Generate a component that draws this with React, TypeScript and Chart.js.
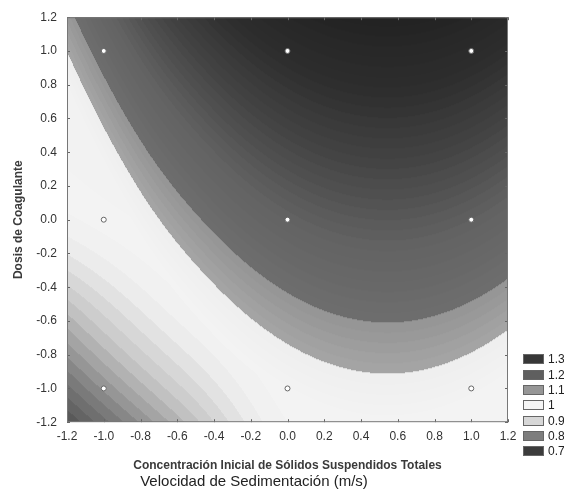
import React, { useEffect, useRef } from "react";
import { Chart, registerables } from "chart.js";

Chart.register(...registerables);

// ---- data ----
const axisTicks = [-1.2, -1.0, -0.8, -0.6, -0.4, -0.2, 0.0, 0.2, 0.4, 0.6, 0.8, 1.0, 1.2];

// 3x3 experimental design points
const designX = [-1, 0, 1, -1, 0, 1, -1, 0, 1];
const designY = [1, 1, 1, 0, 0, 0, -1, -1, -1];

// response surface above the white ridge (x columns, y rows from top to bottom)
const upperX = [-1.2, -0.8, -0.4, 0.0, 0.4, 0.8, 1.2];
const upperY = [1.2, 0.8, 0.4, 0.0, -0.4, -0.8, -1.2];
const upperAtY1p2 = [1.167, 1.441, 1.622, 1.739, 1.793, 1.784, 1.711];
const upperAtY0p8 = [1.035, 1.309, 1.49, 1.607, 1.661, 1.652, 1.579];
const upperAtY0p4 = [0.903, 1.177, 1.358, 1.475, 1.529, 1.52, 1.447];
const upperAtY0p0 = [0.771, 1.045, 1.226, 1.343, 1.397, 1.388, 1.315];
const upperAtYm0p4 = [0.639, 0.913, 1.094, 1.211, 1.265, 1.256, 1.183];
const upperAtYm0p8 = [0.507, 0.781, 0.962, 1.079, 1.133, 1.124, 1.051];
const upperAtYm1p2 = [0.375, 0.649, 0.83, 0.947, 1.001, 0.992, 0.919];
const upperRows = [upperAtY1p2, upperAtY0p8, upperAtY0p4, upperAtY0p0, upperAtYm0p4, upperAtYm0p8, upperAtYm1p2];

// response surface below the white ridge
const lowerX = [-1.2, -0.6, 0.0, 0.6, 1.2];
const lowerY = [1.2, 0.6, 0.0, -0.6, -1.2];
const lowerAtY1p2 = [1.04, 1.04, 1.04, 1.04, 1.04];
const lowerAtY0p6 = [1.03, 1.04, 1.04, 1.04, 1.04];
const lowerAtY0p0 = [0.995, 1.03, 1.04, 1.04, 1.04];
const lowerAtYm0p6 = [0.87, 0.98, 1.03, 1.03, 1.03];
const lowerAtYm1p2 = [0.72, 0.87, 1.0, 1.0, 1.0];
const lowerRows = [lowerAtY1p2, lowerAtY0p6, lowerAtY0p0, lowerAtYm0p6, lowerAtYm1p2];

// legend
const legendLevels = ["1.3", "1.2", "1.1", "1", "0.9", "0.8", "0.7"];

// ---- styles ----
const legendGrays = [55, 95, 150, 245, 215, 125, 60];
const rampZ = [0.6, 0.7, 0.8, 0.9, 0.97, 1.0, 1.0999, 1.1, 1.1999, 1.2, 1.35, 1.5, 1.65, 1.8];
const rampGray = [55, 72, 128, 200, 236, 243, 239, 166, 148, 110, 98, 70, 46, 34];
const FONT = "'Liberation Sans', Arial, sans-serif";

function catmull(p0: number, p1: number, p2: number, p3: number, t: number) {
  const t2 = t * t;
  const t3 = t2 * t;
  return 0.5 * (2 * p1 + (-p0 + p2) * t + (2 * p0 - 5 * p1 + 4 * p2 - p3) * t2 + (-p0 + 3 * p1 - 3 * p2 + p3) * t3);
}
function pick(arr: number[], k: number) {
  const n = arr.length;
  if (k < 0) return 3 * arr[0] - 3 * arr[1] + arr[2];
  if (k >= n) return 3 * arr[n - 1] - 3 * arr[n - 2] + arr[n - 3];
  return arr[k];
}
function interp1(arr: number[], pos: number) {
  const n = arr.length;
  let k = Math.floor(pos);
  if (k < 0) k = 0;
  if (k > n - 2) k = n - 2;
  const t = pos - k;
  return catmull(pick(arr, k - 1), pick(arr, k), pick(arr, k + 1), pick(arr, k + 2), t);
}
function makeSampler(gx: number[], gy: number[], rows: number[][]) {
  return (x: number, y: number) => {
    const px = (x - gx[0]) / (gx[1] - gx[0]);
    const py = (y - gy[0]) / (gy[1] - gy[0]);
    const col = rows.map((r) => interp1(r, px));
    return interp1(col, py);
  };
}
const upperAt = makeSampler(upperX, upperY, upperRows);
const lowerAt = makeSampler(lowerX, lowerY, lowerRows);

function grayFor(z: number) {
  const q = Math.floor(z / 0.02 + 1e-9) * 0.02 + 0.01;
  if (q <= rampZ[0]) return rampGray[0];
  for (let i = 1; i < rampZ.length; i++) {
    if (q <= rampZ[i]) {
      const t = (q - rampZ[i - 1]) / (rampZ[i] - rampZ[i - 1]);
      return rampGray[i - 1] + t * (rampGray[i] - rampGray[i - 1]);
    }
  }
  return rampGray[rampGray.length - 1];
}

const surfacePlugin = {
  id: "surface",
  beforeDatasetsDraw(chart: any) {
    const { ctx, chartArea: a, scales } = chart;
    const w = Math.round(a.right - a.left);
    const h = Math.round(a.bottom - a.top);
    const off = document.createElement("canvas");
    off.width = w;
    off.height = h;
    const octx = off.getContext("2d")!;
    const img = octx.createImageData(w, h);
    const xs: number[] = [];
    for (let i = 0; i < w; i++) xs.push(scales.x.getValueForPixel(a.left + i + 0.5));
    for (let j = 0; j < h; j++) {
      const y = scales.y.getValueForPixel(a.top + j + 0.5);
      for (let i = 0; i < w; i++) {
        const x = xs[i];
        const z = Math.max(upperAt(x, y), lowerAt(x, y));
        const g = Math.round(grayFor(z));
        const o = (j * w + i) * 4;
        img.data[o] = g;
        img.data[o + 1] = g;
        img.data[o + 2] = g;
        img.data[o + 3] = 255;
      }
    }
    octx.putImageData(img, 0, 0);
    ctx.drawImage(off, a.left, a.top);
  },
  afterDraw(chart: any) {
    const { ctx, chartArea: a, scales } = chart;
    ctx.save();
    // inward tick marks
    ctx.strokeStyle = "#666";
    ctx.lineWidth = 1;
    ctx.beginPath();
    for (const v of axisTicks) {
      const px = Math.round(scales.x.getPixelForValue(v)) + 0.5;
      ctx.moveTo(px, a.bottom);
      ctx.lineTo(px, a.bottom - 3);
      ctx.moveTo(px, a.top);
      ctx.lineTo(px, a.top + 3);
      const py = Math.round(scales.y.getPixelForValue(v)) + 0.5;
      ctx.moveTo(a.left, py);
      ctx.lineTo(a.left + 3, py);
      ctx.moveTo(a.right, py);
      ctx.lineTo(a.right - 3, py);
    }
    ctx.stroke();
    // frame
    ctx.strokeStyle = "#777";
    ctx.strokeRect(a.left + 0.5, a.top + 0.5, a.right - a.left - 1, a.bottom - a.top - 1);
    // legend
    const bx = a.right + 15;
    const step = 15.33;
    const top0 = a.bottom - 68;
    ctx.font = `12px ${FONT}`;
    ctx.textBaseline = "middle";
    ctx.textAlign = "left";
    legendLevels.forEach((lab, i) => {
      const y = Math.round(top0 + i * step);
      const g = legendGrays[i];
      ctx.fillStyle = `rgb(${g},${g},${g})`;
      ctx.fillRect(bx, y, 21, 10);
      ctx.strokeStyle = "#666";
      ctx.strokeRect(bx + 0.5, y + 0.5, 20, 9);
      ctx.fillStyle = "#222";
      ctx.fillText(lab, bx + 25, y + 5.5);
    });
    ctx.restore();
  },
};

export default function App() {
  const ref = useRef<HTMLCanvasElement | null>(null);
  useEffect(() => {
    if (!ref.current) return;
    const tickFont = { family: FONT, size: 12 };
    const chart = new Chart(ref.current, {
      type: "scatter",
      data: {
        datasets: [
          {
            label: "Diseño",
            data: designX.map((x, i) => ({ x, y: designY[i] })),
            pointRadius: 2.5,
            pointBackgroundColor: "#ffffff",
            pointBorderColor: "#666666",
            pointBorderWidth: 1,
          },
        ],
      },
      options: {
        responsive: false,
        animation: false,
        layout: { padding: { top: 16, right: 56, bottom: 0, left: 0 } },
        plugins: {
          legend: { display: false },
          tooltip: { enabled: false },
          title: {
            display: true,
            position: "bottom",
            text: "Velocidad de Sedimentación (m/s)",
            color: "#222",
            font: { family: FONT, size: 15, weight: "normal" },
            padding: { top: 0, bottom: 0 },
          },
        },
        scales: {
          x: {
            type: "linear",
            min: -1.2,
            max: 1.2,
            afterBuildTicks: (s: any) => {
              s.ticks = axisTicks.map((v) => ({ value: v }));
            },
            ticks: {
              callback: (v: any) => Number(v).toFixed(1),
              color: "#333",
              font: tickFont,
              padding: 7,
              maxRotation: 0,
              autoSkip: false,
            },
            grid: { display: false, drawTicks: false },
            border: { display: false },
            title: {
              display: true,
              text: "Concentración Inicial de Sólidos Suspendidos Totales",
              color: "#3a3a3a",
              font: { family: FONT, size: 12, weight: "bold" },
              padding: { top: 8, bottom: 0 },
            },
          },
          y: {
            type: "linear",
            min: -1.2,
            max: 1.2,
            afterBuildTicks: (s: any) => {
              s.ticks = axisTicks.map((v) => ({ value: v }));
            },
            afterFit: (s: any) => {
              s.width = 67;
            },
            ticks: {
              callback: (v: any) => Number(v).toFixed(1),
              color: "#333",
              font: tickFont,
              padding: 10,
              autoSkip: false,
            },
            grid: { display: false, drawTicks: false },
            border: { display: false },
            title: {
              display: true,
              text: "Dosis de Coagulante",
              color: "#3a3a3a",
              font: { family: FONT, size: 12, weight: "bold" },
              padding: { top: 11, bottom: 4 },
            },
          },
        },
      },
      plugins: [surfacePlugin],
    } as any);
    return () => chart.destroy();
  }, []);
  return (
    <div style={{ position: "fixed", left: 0, top: 0, width: 564, height: 491, background: "#fff" }}>
      <canvas ref={ref} width={564} height={491} style={{ display: "block" }} />
    </div>
  );
}
